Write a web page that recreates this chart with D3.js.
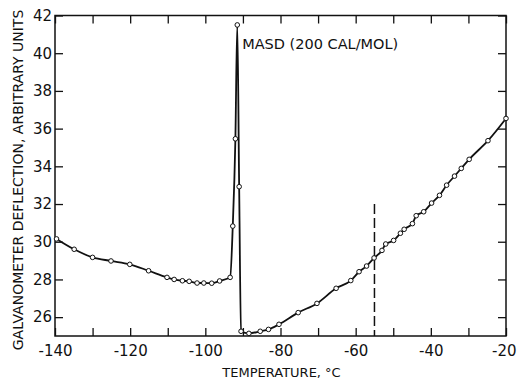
<!DOCTYPE html>
<html>
<head>
<meta charset="utf-8">
<script src="https://cdn.jsdelivr.net/npm/d3@7/dist/d3.min.js"></script>
<style>
  body { margin: 0; background: #fff; }
  svg { display: block; }
  text { font-family: "DejaVu Sans", sans-serif; fill: #111; }
</style>
</head>
<body>
<svg id="chart"></svg>
<script>
// readings (temperature in degC, galvanometer deflection)
const temps = [-139.6, -134.9, -130, -125.1, -120.1, -115.1, -110.2, -108.3, -106.1, -104.3,
    -102.2, -100.4, -98.3, -96.2, -93.4, -92.7, -92.0, -91.5, -91.0, -90.5, -88.4, -85.4,
    -83.2, -80.4, -75.3, -70.3, -65.2, -61.3, -59.1, -57.1, -55.1, -53.0, -52.0, -49.9,
    -48.1, -47.1, -44.9, -43.9, -41.9, -39.8, -37.7, -35.8, -33.7, -31.9, -29.8, -24.8, -20.0];
const deflection = [30.15, 29.6, 29.17, 28.98, 28.8, 28.46, 28.11, 28.0, 27.93, 27.9,
    27.81, 27.81, 27.8, 27.92, 28.11, 30.83, 35.46, 41.5, 32.92, 25.25, 25.14, 25.25,
    25.35, 25.62, 26.24, 26.73, 27.53, 27.94, 28.41, 28.71, 29.14, 29.54, 29.88, 30.07,
    30.45, 30.66, 30.96, 31.38, 31.59, 32.05, 32.46, 33.0, 33.48, 33.89, 34.37, 35.36, 36.54];

const xTicks = [-140, -130, -120, -110, -100, -90, -80, -70, -60, -50, -40, -30, -20];
const xLabels = [-140, -120, -100, -80, -60, -40, -20];
const yTicks = [26, 28, 30, 32, 34, 36, 38, 40, 42];

const dashTemp = -55;
const dashRange = [25, 32];
const annotation = 'MASD (200 CAL/MOL)';
const annotationAt = [-90.2, 40.2];

function translate(x, y) {
    return `translate(${x}, ${y})`;
}

const svgWidth = 517, svgHeight = 383;
const margin = { top: 15.5, left: 55, right: 11, bottom: 47 };
const width = svgWidth - margin.left - margin.right,
    height = svgHeight - margin.top - margin.bottom;

const svg = d3.select('#chart').attr('width', svgWidth).attr('height', svgHeight);
const view = svg.append('g').attr('transform', translate(margin.left, margin.top));

const x = d3.scaleLinear().domain([-140, -20]).range([0, width]);
const y = d3.scaleLinear().domain([25, 42]).range([height, 0]);

const tick = 8;
const axisStyle = g => {
    g.select('.domain').remove();
    g.selectAll('.tick line').attr('stroke', '#111').attr('stroke-width', 1.3);
    g.selectAll('.tick text').style('font-size', '15px').attr('fill', '#111');
};

// bottom axis: inward ticks, labels every 20
const xAxisG = view.append('g').attr('transform', translate(0, height))
    .call(d3.axisBottom(x).tickValues(xTicks).tickSizeInner(-tick).tickSizeOuter(0)
        .tickPadding(9).tickFormat(d => xLabels.includes(d) ? d : ''))
    .call(axisStyle);
// last label sits against the right edge of the page
xAxisG.selectAll('.tick text').filter(d => d === -20)
    .attr('text-anchor', 'end').attr('x', 10);

view.append('g')
    .call(d3.axisTop(x).tickValues(xTicks).tickSizeInner(-tick).tickSizeOuter(0).tickFormat(''))
    .call(axisStyle);
view.append('g')
    .call(d3.axisLeft(y).tickValues(yTicks).tickSizeInner(-tick).tickSizeOuter(0).tickPadding(3))
    .call(axisStyle);
view.append('g').attr('transform', translate(width, 0))
    .call(d3.axisRight(y).tickValues(yTicks).tickSizeInner(-tick).tickSizeOuter(0).tickFormat(''))
    .call(axisStyle);

view.append('rect')
    .attr('width', width).attr('height', height)
    .attr('fill', 'none').attr('stroke', '#111').attr('stroke-width', 1.5);

// dashed marker
view.append('line')
    .attr('x1', x(dashTemp)).attr('x2', x(dashTemp))
    .attr('y1', y(dashRange[1])).attr('y2', y(dashRange[0]))
    .attr('stroke', '#111').attr('stroke-width', 1.5).attr('stroke-dasharray', '10,4');

const points = temps.map((t, i) => [t, deflection[i]]);
const line = d3.line().x(d => x(d[0])).y(d => y(d[1])).curve(d3.curveMonotoneX);

view.append('path')
    .attr('d', line(points))
    .attr('fill', 'none').attr('stroke', '#111').attr('stroke-width', 1.8);

view.append('g').selectAll('circle').data(points).enter().append('circle')
    .attr('cx', d => x(d[0])).attr('cy', d => y(d[1])).attr('r', 2.3)
    .attr('fill', '#fff').attr('stroke', '#111').attr('stroke-width', 1);

view.append('text')
    .attr('transform', translate(x(annotationAt[0]), y(annotationAt[1])))
    .style('font-size', '14.5px')
    .text(annotation);

svg.append('text')
    .attr('transform', translate(281.5, 377))
    .style('text-anchor', 'middle')
    .style('font-size', '13px')
    .text('TEMPERATURE, °C');

svg.append('text')
    .attr('transform', translate(23, 180) + ' rotate(-90)')
    .style('text-anchor', 'middle')
    .style('font-size', '14px')
    .text('GALVANOMETER DEFLECTION, ARBITRARY UNITS');
</script>
</body>
</html>
